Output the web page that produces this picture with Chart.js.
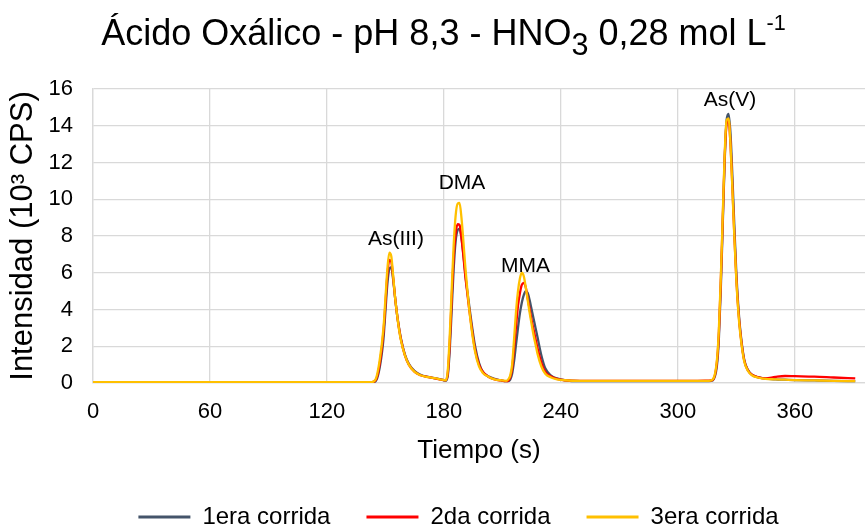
<!DOCTYPE html>
<html>
<head>
<meta charset="utf-8">
<script src="https://cdn.jsdelivr.net/npm/chart.js@4.4.1/dist/chart.umd.min.js"></script>
<style>
  body { margin: 0; background: #fff; }
  #wrap { position: relative; width: 865px; height: 528px; }
  #title {
    position: absolute; left: 0; top: 15px; width: 865px; padding-left: 22px; box-sizing: border-box;
    text-align: center; font-family: "Liberation Sans", Arial, sans-serif; font-size: 36px; line-height: 36px; color: #000;
  }
  #title sub { font-size: 0.85em; vertical-align: -10px; line-height: 0; }
  #title sup { font-size: 0.6em; vertical-align: 15px; line-height: 0; }
</style>
</head>
<body>
<div id="wrap">
  <div id="title">Ácido Oxálico - pH 8,3 - HNO<sub>3</sub> 0,28 mol L<sup>-1</sup></div>
  <canvas id="chart" width="865" height="528"></canvas>
</div>
<script>
// tiempo (s)
const tiempo = [0, 20, 40, 60, 80, 100, 120, 140, 143, 145, 147, 149, 150, 151, 152, 153, 154, 155, 156, 157, 158,
  160, 162, 165, 168, 172, 176, 179, 181, 182, 183, 184, 185, 186, 187, 188, 189, 190, 191, 192, 193, 194,
  196, 198, 200, 203, 206, 209, 212, 213, 214, 215, 216, 217, 218, 219, 220, 221, 222, 223, 224, 225, 226, 227, 228,
  230, 232, 235, 238, 242, 250, 270, 290, 310, 316, 318, 320, 321, 322, 323, 324, 325, 326, 327, 328, 329, 330,
  331, 332, 334, 336, 338, 341, 345, 350, 355, 360, 370, 380, 391]

// intensidad (10^3 CPS)
const corrida1 = [0.03, 0.03, 0.03, 0.03, 0.03, 0.03, 0.03, 0.03, 0.03, 0.1, 0.8, 2.4, 3.9, 5.4, 6.2, 6.3, 5.6, 4.6, 3.7, 3.0, 2.4,
  1.55, 1.05, 0.65, 0.45, 0.33, 0.25, 0.18, 0.12, 0.4, 1.8, 4.0, 6.2, 7.7, 8.3, 8.4, 7.9, 7.0, 5.9, 5.0, 4.2, 3.4,
  2.0, 1.1, 0.6, 0.35, 0.22, 0.15, 0.1, 0.1, 0.18, 0.5, 1.2, 2.1, 3.0, 3.8, 4.4, 4.8, 5.0, 4.9, 4.5, 4.0, 3.5, 3.0, 2.5,
  1.5, 0.8, 0.4, 0.25, 0.15, 0.1, 0.1, 0.1, 0.1, 0.1, 0.15, 0.9, 2.3, 5.0, 8.5, 12.0, 14.3, 14.65, 13.6, 11.2, 8.5, 6.0,
  4.2, 2.9, 1.3, 0.7, 0.45, 0.32, 0.24, 0.2, 0.18, 0.16, 0.14, 0.12, 0.1]

const corrida2 = [0.03, 0.03, 0.03, 0.03, 0.03, 0.03, 0.03, 0.03, 0.04, 0.15, 1.0, 2.8, 4.3, 5.9, 6.7, 6.6, 5.7, 4.6, 3.7, 2.95, 2.35,
  1.5, 1.0, 0.6, 0.42, 0.32, 0.24, 0.17, 0.15, 0.55, 2.2, 4.6, 6.8, 8.1, 8.65, 8.6, 7.9, 6.9, 5.8, 4.9, 4.0, 3.2,
  1.8, 1.0, 0.6, 0.33, 0.2, 0.14, 0.1, 0.12, 0.3, 0.8, 1.9, 3.1, 4.2, 4.9, 5.35, 5.45, 5.2, 4.6, 4.0, 3.4, 2.9, 2.4, 1.9,
  1.1, 0.6, 0.35, 0.22, 0.15, 0.12, 0.12, 0.12, 0.12, 0.13, 0.18, 1.1, 2.6, 5.4, 8.8, 12.2, 14.1, 14.3, 13.0, 10.6, 8.0, 5.7,
  4.0, 2.8, 1.25, 0.68, 0.45, 0.32, 0.25, 0.33, 0.38, 0.37, 0.35, 0.3, 0.25]

const corrida3 = [0.05, 0.05, 0.05, 0.05, 0.05, 0.05, 0.05, 0.05, 0.05, 0.2, 1.2, 3.0, 4.6, 6.2, 7.1, 6.9, 5.8, 4.6, 3.7, 2.9, 2.3,
  1.5, 1.0, 0.6, 0.42, 0.32, 0.25, 0.18, 0.15, 0.7, 2.6, 5.1, 7.5, 9.1, 9.75, 9.8, 9.0, 7.7, 6.3, 5.1, 4.0, 3.1,
  1.7, 0.9, 0.55, 0.33, 0.2, 0.15, 0.12, 0.2, 0.4, 1.0, 2.4, 3.9, 5.0, 5.7, 6.0, 5.8, 5.2, 4.5, 3.8, 3.2, 2.6, 2.1, 1.6,
  0.9, 0.5, 0.3, 0.2, 0.15, 0.12, 0.12, 0.12, 0.12, 0.12, 0.2, 1.2, 2.8, 5.6, 9.0, 12.4, 14.3, 14.4, 13.0, 10.5, 7.9, 5.6,
  3.9, 2.7, 1.2, 0.65, 0.42, 0.3, 0.22, 0.2, 0.18, 0.16, 0.14, 0.12, 0.1]

const nombres = ["1era corrida", "2da corrida", "3era corrida"]
const colores = ["#44546A", "#FF0000", "#FFC000"]

// etiquetas de los picos
const picos = ["As(III)", "DMA", "MMA", "As(V)"]
const picosTiempo = [155.4, 189.3, 221.9, 326.7]
const picosAltura = [7.8, 10.9, 6.37, 15.4]

const xTicks = [0, 60, 120, 180, 240, 300, 360]

const toPoints = (values) => values.map((v, i) => ({ x: tiempo[i], y: v }))

const peakLabels = {
  id: "peakLabels",
  afterLayout(chart) {
    // legend sits a bit right of center in the original
    chart.legend.left += 26
    chart.legend.right += 26
  },
  afterDatasetsDraw(chart) {
    const { ctx, scales } = chart
    ctx.save()
    ctx.font = "21px 'Liberation Sans', Arial, sans-serif"
    ctx.fillStyle = "#000"
    ctx.textAlign = "center"
    ctx.textBaseline = "middle"
    picos.forEach((name, i) => {
      ctx.fillText(name, scales.x.getPixelForValue(picosTiempo[i]), scales.y.getPixelForValue(picosAltura[i]))
    })
    ctx.restore()
  }
}

Chart.defaults.font.family = "'Liberation Sans', Arial, sans-serif"
Chart.defaults.color = "#000"

const series = [corrida1, corrida2, corrida3]

new Chart(document.getElementById("chart"), {
  type: "line",
  data: {
    datasets: series.map((values, i) => ({
      label: nombres[i],
      data: toPoints(values),
      borderColor: colores[i],
      backgroundColor: colores[i],
      borderWidth: 2.3,
      pointRadius: 0,
      cubicInterpolationMode: "monotone",
      order: 3 - i
    }))
  },
  options: {
    responsive: false,
    devicePixelRatio: 1,
    animation: false,
    layout: { padding: { top: 89, left: 0, right: 0, bottom: -11 } },
    scales: {
      x: {
        type: "linear",
        min: 0,
        max: 396,
        afterBuildTicks: (scale) => { scale.ticks = xTicks.map(v => ({ value: v })) },
        afterFit: (scale) => { scale.height = 86 },
        ticks: { font: { size: 22 }, padding: 16, maxRotation: 0 },
        grid: { color: "#D9D9D9", lineWidth: 1.3, drawTicks: false },
        border: { color: "#D9D9D9", width: 1.3 },
        title: { display: true, text: "Tiempo (s)", font: { size: 26 }, padding: { top: 0, bottom: 3 } }
      },
      y: {
        min: 0,
        max: 16,
        ticks: { stepSize: 2, font: { size: 22 }, padding: 20 },
        afterFit: (scale) => { scale.width = 93 },
        grid: { color: "#D9D9D9", lineWidth: 1.3, drawTicks: false },
        border: { color: "#D9D9D9", width: 1.3 },
        title: { display: true, text: "Intensidad (10³ CPS)", font: { size: 31 }, padding: { top: 5, bottom: 0 } }
      }
    },
    plugins: {
      legend: {
        position: "bottom",
        labels: {
          font: { size: 24 },
          boxWidth: 52,
          boxHeight: 3,
          padding: 36,
          sort: (a, b) => a.datasetIndex - b.datasetIndex,
          generateLabels: (chart) => Chart.defaults.plugins.legend.labels.generateLabels(chart)
            .map(item => Object.assign(item, { lineWidth: 0 }))
        }
      },
      tooltip: { enabled: false }
    }
  },
  plugins: [peakLabels]
})
</script>
</body>
</html>
